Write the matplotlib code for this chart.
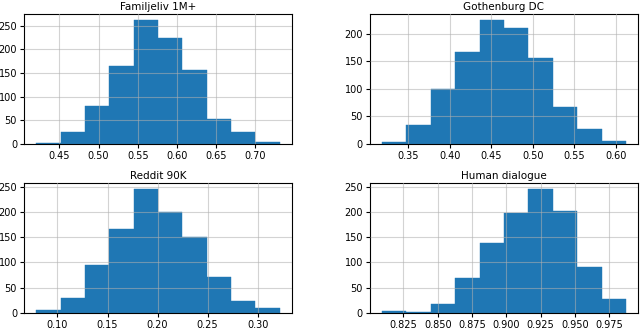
import numpy as np
import matplotlib
matplotlib.use("Agg")
import matplotlib.pyplot as plt

titles = ["Familjeliv 1M+", "Gothenburg DC", "Reddit 90K", "Human dialogue"]

fam_range = (0.4202, 0.7315)
fam_counts = [3, 25, 80, 165, 261, 223, 156, 53, 25, 4]

gdc_range = (0.3185, 0.6121)
gdc_counts = [3, 35, 99, 166, 224, 210, 156, 67, 27, 5]

red_range = (0.0787, 0.3220)
red_counts = [6, 30, 95, 167, 245, 200, 150, 71, 24, 10]

hum_range = (0.8094, 0.9872)
hum_counts = [3, 2, 18, 70, 139, 198, 245, 202, 91, 28]

fam_xticks = [0.45, 0.50, 0.55, 0.60, 0.65, 0.70]
gdc_xticks = [0.35, 0.40, 0.45, 0.50, 0.55, 0.60]
red_xticks = [0.10, 0.15, 0.20, 0.25, 0.30]
hum_xticks = [0.825, 0.850, 0.875, 0.900, 0.925, 0.950, 0.975]

ranges = [fam_range, gdc_range, red_range, hum_range]
counts = [fam_counts, gdc_counts, red_counts, hum_counts]
xticks = [fam_xticks, gdc_xticks, red_xticks, hum_xticks]
fmts = ["{:.2f}", "{:.2f}", "{:.2f}", "{:.3f}"]

fig = plt.figure(figsize=(6.4, 3.28), dpi=100)
positions = [
    [0.0375, 0.561, 0.4185, 0.396],
    [0.578, 0.561, 0.419, 0.396],
    [0.0375, 0.046, 0.4185, 0.396],
    [0.578, 0.046, 0.419, 0.396],
]

for pos, t, r, c, xt, f in zip(positions, titles, ranges, counts, xticks, fmts):
    ax = fig.add_axes(pos)
    edges = np.linspace(r[0], r[1], len(c) + 1)
    centers = (edges[:-1] + edges[1:]) / 2
    ax.hist(centers, bins=edges, weights=c, color="#1f77b4",
            edgecolor="#1f77b4", linewidth=0.3)
    ax.set_axisbelow(False)
    ax.grid(True, color="#b0b0b0", alpha=0.55, linewidth=0.8)
    ax.set_title(t, fontsize=7.5, pad=3)
    ax.set_xticks(xt)
    ax.set_xticklabels([f.format(v) for v in xt])
    ax.tick_params(labelsize=7, length=3, width=0.8, pad=2)
    ax.set_xlim(r[0] - 0.05 * (r[1] - r[0]), r[1] + 0.05 * (r[1] - r[0]))
    ax.set_ylim(0, max(c) * 1.05)
    for s in ax.spines.values():
        s.set_linewidth(0.8)

fig.savefig("out.png", dpi=100)
